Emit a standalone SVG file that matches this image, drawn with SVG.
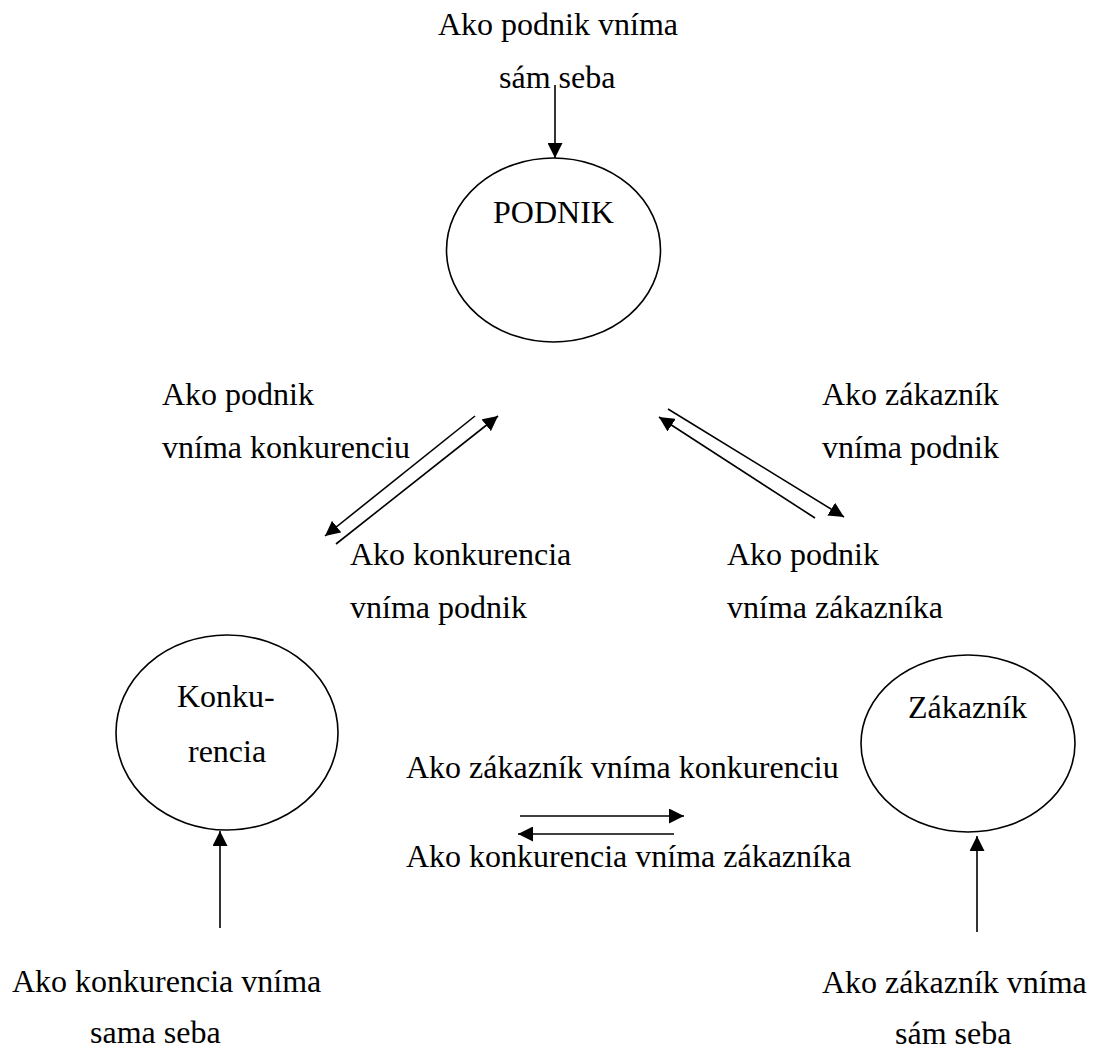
<svg xmlns="http://www.w3.org/2000/svg" width="1097" height="1050" viewBox="0 0 1097 1050">
<style>
  text { font-family: "Liberation Serif", "Times New Roman", serif; font-size: 32px; fill: #000; }
  .node { fill: #fff; stroke: #000; stroke-width: 1.6; }
  .conn { stroke: #000; stroke-width: 1.6; fill: none; marker-end: url(#arrow); }
</style>
<defs>
  <marker id="arrow" markerUnits="userSpaceOnUse" markerWidth="15" markerHeight="15" refX="15" refY="7.5" orient="auto">
    <path d="M0,0 L15,7.5 L0,15 z" fill="#000"/>
  </marker>
</defs>
<rect width="1097" height="1050" fill="#fff"/>

<g id="label-top">
  <text x="438" y="35">Ako podnik vníma</text>
  <text x="499" y="88">sám seba</text>
</g>

<g id="podnik">
  <ellipse class="node" cx="553.5" cy="250" rx="107" ry="92"/>
  <text x="493" y="223">PODNIK</text>
</g>

<g id="konkurencia">
  <ellipse class="node" cx="227" cy="732.5" rx="111" ry="97.5"/>
  <text x="177" y="707">Konku-</text>
  <text x="188" y="762">rencia</text>
</g>

<g id="zakaznik">
  <ellipse class="node" cx="968" cy="743.5" rx="107" ry="88.5"/>
  <text x="908" y="718">Zákazník</text>
</g>

<g id="labels">
  <text x="162" y="405">Ako podnik</text>
  <text x="162" y="458">vníma konkurenciu</text>
  <text x="350" y="565">Ako konkurencia</text>
  <text x="350" y="618">vníma podnik</text>
  <text x="822" y="405">Ako zákazník</text>
  <text x="822" y="458">vníma podnik</text>
  <text x="727" y="565">Ako podnik</text>
  <text x="727" y="618">vníma zákazníka</text>
  <text x="406" y="778">Ako zákazník vníma konkurenciu</text>
  <text x="406" y="867">Ako konkurencia vníma zákazníka</text>
  <text x="12" y="992">Ako konkurencia vníma</text>
  <text x="90" y="1043">sama seba</text>
  <text x="822" y="993">Ako zákazník vníma</text>
  <text x="895" y="1044">sám seba</text>
</g>

<g id="connectors">
  <line class="conn" x1="555" y1="85" x2="555" y2="158"/>
  <line class="conn" x1="475" y1="416" x2="325" y2="536"/>
  <line class="conn" x1="336" y1="544" x2="498" y2="416"/>
  <line class="conn" x1="668" y1="409" x2="844" y2="517"/>
  <line class="conn" x1="815" y1="518" x2="659" y2="417"/>
  <line class="conn" x1="520" y1="816" x2="684" y2="816"/>
  <line class="conn" x1="674" y1="834" x2="518" y2="834"/>
  <line class="conn" x1="220" y1="928" x2="220" y2="831"/>
  <line class="conn" x1="977" y1="932" x2="977" y2="836"/>
</g>
</svg>
